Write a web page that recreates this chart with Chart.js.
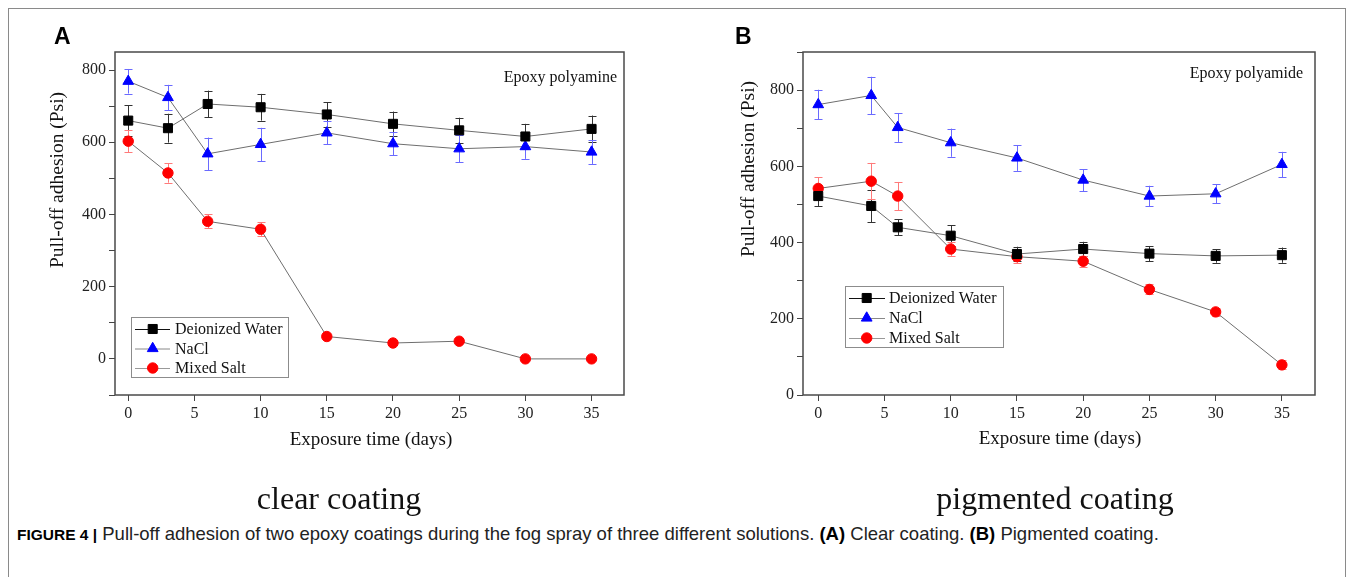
<!DOCTYPE html>
<html>
<head>
<meta charset="utf-8">
<script src="https://cdn.jsdelivr.net/npm/chart.js@4.4.1/dist/chart.umd.min.js"></script>
<style>
html,body{margin:0;padding:0;background:#fff;}
body{width:1355px;height:577px;position:relative;overflow:hidden;font-family:"Liberation Serif","Times New Roman",serif;color:#111;}
.abs{position:absolute;white-space:nowrap;line-height:1;}
#frame{position:absolute;left:8px;top:8px;width:1338px;height:620px;border:1px solid #8a8a8a;box-sizing:border-box;}
canvas{position:absolute;top:0;}
.panel{font-family:"Liberation Sans",Arial,sans-serif;font-weight:bold;font-size:23px;color:#000;}
.ytitle{font-size:19.5px;transform:translate(-50%,-50%) rotate(-90deg);}
.xtitle{font-size:19px;transform:translate(-50%,-50%);}
.note{font-size:16px;transform:translate(-100%,-50%);}
.sub{font-size:32px;transform:translate(-50%,-50%);}
.cap{font-family:"Liberation Sans",Arial,sans-serif;font-size:18.5px;color:#222;transform:translateY(-50%);}
.cap b{color:#000;}
.cap .fig{font-size:15.5px;}
</style>
</head>
<body>
<div id="frame"></div>
<canvas id="cA" width="680" height="460" style="left:0px"></canvas>
<canvas id="cB" width="675" height="460" style="left:680px"></canvas>

<div class="abs panel" style="left:54px;top:25px;">A</div>
<div class="abs panel" style="left:735px;top:25px;">B</div>
<div class="abs ytitle" style="left:57px;top:180px;">Pull-off adhesion (Psi)</div>
<div class="abs ytitle" style="left:748px;top:169px;">Pull-off adhesion (Psi)</div>
<div class="abs xtitle" style="left:371px;top:438px;">Exposure time (days)</div>
<div class="abs xtitle" style="left:1060px;top:437px;">Exposure time (days)</div>
<div class="abs note" style="left:617px;top:77px;">Epoxy polyamine</div>
<div class="abs note" style="left:1303px;top:73px;">Epoxy polyamide</div>
<div class="abs sub" style="left:339px;top:498px;">clear coating</div>
<div class="abs sub" style="left:1055px;top:498px;">pigmented coating</div>
<div class="abs cap" style="left:17px;top:534px;"><b class="fig">FIGURE 4 |</b> Pull-off adhesion of two epoxy coatings during the fog spray of three different solutions. <b>(A)</b> Clear coating. <b>(B)</b> Pigmented coating.</div>

<script>
// ---------- DATA ----------
const seriesNames = ['Deionized Water', 'NaCl', 'Mixed Salt'];

// Panel A: clear coating (epoxy polyamine)
const daysA = [0, 3, 6, 10, 15, 20, 25, 30, 35];
const waterA = [660, 639, 706, 697, 677, 651, 633, 616, 637];
const waterErrA = [42, 40, 37, 37, 34, 34, 35, 35, 37];
const naclA = [769, 724, 568, 594, 626, 596, 582, 588, 573];
const naclErrA = [34, 35, 45, 46, 32, 32, 37, 34, 33];
const saltA = [603, 515, 381, 359, 62, 44, 49, 0, 0];
const saltErrA = [31, 27, 19, 20, 5, 5, 5, 3, 3];

// Panel B: pigmented coating (epoxy polyamide)
const daysB = [0, 4, 6, 10, 15, 20, 25, 30, 35];
const waterB = [522, 496, 440, 418, 370, 383, 371, 365, 367];
const waterErrB = [26, 43, 21, 27, 19, 19, 20, 18, 20];
const naclB = [762, 786, 702, 662, 622, 564, 522, 528, 605];
const naclErrB = [39, 49, 38, 37, 34, 29, 27, 25, 33];
const saltB = [542, 561, 522, 383, 363, 351, 277, 218, 79];
const saltErrB = [30, 48, 37, 18, 17, 15, 13, 10, 12];

// Tick values / labels
const xTicks = [0, 5, 10, 15, 20, 25, 30, 35];
const yTicksA = [-100, 0, 100, 200, 300, 400, 500, 600, 700, 800];
const yTicksB = [0, 100, 200, 300, 400, 500, 600, 700, 800, 900];
const yLabelled = [0, 200, 400, 600, 800];

// ---------- STYLE ----------
const FONT = '"Liberation Serif", "Times New Roman", serif';
const styles = [
  {pointStyle: 'rect', pointRadius: 6.4, color: '#000000', err: '#333333', legendLine: '#111111'},
  {pointStyle: 'triangle', pointRadius: 6.2, color: '#0000ff', err: '#6a6aff', legendLine: '#888888'},
  {pointStyle: 'circle', pointRadius: 5.2, color: '#ff0000', err: '#ff7a7a', legendLine: '#999999'}
];

function makeDatasets(days, vals, errs) {
  return vals.map((arr, i) => ({
    label: seriesNames[i],
    data: arr.map((v, j) => ({x: days[j], y: v})),
    errors: errs[i],
    errColor: styles[i].err,
    legendLine: styles[i].legendLine,
    borderColor: '#6e6e6e',
    borderWidth: 1,
    pointStyle: styles[i].pointStyle,
    pointRadius: styles[i].pointRadius,
    pointBackgroundColor: styles[i].color,
    pointBorderColor: styles[i].color,
    pointBorderWidth: 1,
    fill: false,
    tension: 0
  }));
}

const errorBars = {
  id: 'errorBars',
  beforeDatasetsDraw(chart) {
    const ctx = chart.ctx, ys = chart.scales.y;
    chart.data.datasets.forEach((ds, i) => {
      const meta = chart.getDatasetMeta(i);
      ctx.save();
      ctx.strokeStyle = ds.errColor;
      ctx.lineWidth = 1;
      meta.data.forEach((pt, j) => {
        const v = ds.data[j].y, e = ds.errors[j];
        const y1 = ys.getPixelForValue(v + e), y2 = ys.getPixelForValue(v - e);
        const x = Math.round(pt.x) + 0.5;
        ctx.beginPath();
        ctx.moveTo(x, y1); ctx.lineTo(x, y2);
        ctx.moveTo(x - 4, Math.round(y1) + 0.5); ctx.lineTo(x + 4, Math.round(y1) + 0.5);
        ctx.moveTo(x - 4, Math.round(y2) + 0.5); ctx.lineTo(x + 4, Math.round(y2) + 0.5);
        ctx.stroke();
      });
      ctx.restore();
    });
  }
};

const frameBox = {
  id: 'frameBox',
  afterDraw(chart) {
    const a = chart.chartArea, ctx = chart.ctx;
    ctx.save();
    ctx.strokeStyle = '#4a4a4a';
    ctx.lineWidth = 1.5;
    ctx.strokeRect(a.left, a.top, a.right - a.left, a.bottom - a.top);
    ctx.restore();
  }
};

const boxLegend = {
  id: 'boxLegend',
  afterDraw(chart, args, o) {
    const ctx = chart.ctx;
    ctx.save();
    ctx.fillStyle = '#fff';
    ctx.fillRect(o.x, o.y, o.w, o.h);
    ctx.strokeStyle = '#8c8c8c';
    ctx.lineWidth = 1;
    ctx.strokeRect(o.x + 0.5, o.y + 0.5, o.w, o.h);
    chart.data.datasets.forEach((ds, i) => {
      const cy = o.y + o.row0 + i * o.gap;
      ctx.strokeStyle = ds.legendLine;
      ctx.lineWidth = 1;
      ctx.beginPath();
      ctx.moveTo(o.x + 4, cy + 0.5); ctx.lineTo(o.x + o.lineEnd, cy + 0.5);
      ctx.stroke();
      ctx.fillStyle = ds.pointBackgroundColor;
      ctx.strokeStyle = ds.pointBorderColor;
      Chart.helpers.drawPoint(ctx, {pointStyle: ds.pointStyle, radius: ds.pointRadius, borderWidth: 1, rotation: 0}, o.x + o.marker, cy);
      ctx.fillStyle = '#111';
      ctx.font = '16px ' + FONT;
      ctx.textBaseline = 'middle';
      ctx.textAlign = 'left';
      ctx.fillText(ds.label, o.x + o.text, cy + 1);
    });
    ctx.restore();
  }
};

function makeChart(id, days, vals, errs, yMin, yMax, yTicks, yAxisWidth, padRight, legendOpts, xMin, xMax) {
  return new Chart(document.getElementById(id), {
    type: 'line',
    data: {datasets: makeDatasets(days, vals, errs)},
    options: {
      responsive: false,
      animation: false,
      events: [],
      layout: {padding: {top: 52, right: padRight, left: 0, bottom: 0}},
      plugins: {legend: {display: false}, tooltip: {enabled: false}, boxLegend: legendOpts},
      scales: {
        x: {
          type: 'linear', min: xMin, max: xMax,
          afterBuildTicks: s => { s.ticks = xTicks.map(v => ({value: v})); },
          afterFit: s => { s.height = 65; },
          grid: {drawOnChartArea: false, drawTicks: true, tickLength: 6, color: '#444', lineWidth: 1},
          border: {display: false},
          ticks: {font: {family: FONT, size: 16}, color: '#222', padding: 3, maxRotation: 0, autoSkip: false}
        },
        y: {
          type: 'linear', min: yMin, max: yMax,
          afterBuildTicks: s => { s.ticks = yTicks.map(v => ({value: v})); },
          afterFit: s => { s.width = yAxisWidth; },
          grid: {drawOnChartArea: false, drawTicks: true, tickLength: 6, color: '#444', lineWidth: 1},
          border: {display: false},
          ticks: {font: {family: FONT, size: 16}, color: '#222', padding: 3, autoSkip: false,
                  callback: v => yLabelled.includes(v) ? String(v) : ''}
        }
      }
    },
    plugins: [errorBars, frameBox, boxLegend]
  });
}

makeChart('cA', daysA, [waterA, naclA, saltA], [waterErrA, naclErrA, saltErrA],
  -100, 850, yTicksA, 115, 56,
  {x: 131, y: 317, w: 157, h: 60, row0: 12, gap: 19.5, lineEnd: 39, marker: 21.7, text: 44},
  -1, 37.45);
makeChart('cB', daysB, [waterB, naclB, saltB], [waterErrB, naclErrB, saltErrB],
  0, 900, yTicksB, 123, 40,
  {x: 165, y: 286, w: 158, h: 61, row0: 12, gap: 20, lineEnd: 40, marker: 21.7, text: 44},
  -1.15, 37.5);
</script>
</body>
</html>
